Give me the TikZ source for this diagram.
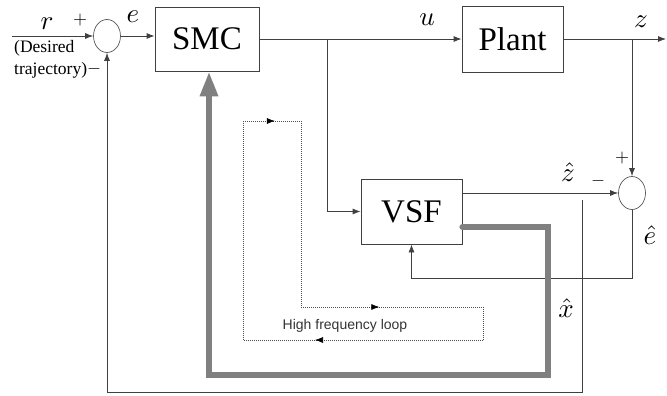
\documentclass[tikz,border=0pt]{standalone}
\usepackage{fontspec}
\setmainfont{Liberation Serif}
\newfontfamily\loopfont{Liberation Sans}
\usetikzlibrary{arrows.meta,shapes.geometric,decorations.markings}

\begin{document}
\begin{tikzpicture}[
  x=1pt, y=-1pt,
  blk/.style={draw=black!75, line width=0.8pt, inner sep=0pt, font=\fontsize{33}{35}\selectfont},
  sumnode/.style={draw=black!65, ellipse, line width=0.7pt, minimum width=27pt, minimum height=33pt, inner sep=0pt},
  arr/.style={-{Latex[length=8pt,width=6pt]}, line width=0.8pt, draw=black!75},
  sig/.style={scale=2.7, inner sep=0pt},
  sgn/.style={scale=1.8, inner sep=0pt},
  hfarr/.style={-{Triangle[length=25pt,width=17pt]}, line width=6pt, draw=black!50, line cap=round, line join=miter},
  loopln/.style={draw=black!70, line width=0.6pt, dash pattern=on 1pt off 1pt},
  midarr/.style={postaction={decorate, decoration={markings,
    mark=at position #1 with {\arrow[solid,black]{Latex[length=8pt,width=6pt]}}}}}
]
\useasboundingbox (0,0) rectangle (667,396);

% blocks
\node[sumnode] (sumr) at (107,36) {};
\node[blk, minimum width=104pt, minimum height=64pt] (smc) at (207,39) {SMC};
\node[blk, minimum width=101pt, minimum height=66pt] (plant) at (512.5,39) {Plant};
\node[blk, minimum width=101pt, minimum height=65pt] (vsf) at (411.5,211.5) {VSF};
\node[sumnode] (sumz) at (632,193) {};

% free ends and corners
\coordinate (rin) at (12,36);
\coordinate (zout) at (666,39);
\coordinate (ub) at (327,39);
\coordinate (zb) at (632,39);
\coordinate (eb) at (632,278);
\coordinate (xs) at (582,200);
\coordinate (fb) at (107,392);
\coordinate (gx) at (548,227);
\coordinate (g1) at (548,375);
\coordinate (g2) at (209,375);

% signals
\draw[arr] (rin) -- (sumr.west);
\draw[arr] (sumr.east) -- (sumr.east -| smc.west);
\draw[arr] (smc.east) -- (plant.west);
\draw[arr] (plant.east) -- (zout);
\draw[arr] (ub) |- (vsf.west);
\draw[arr] (zb) -- (sumz.north);
\draw[arr] (vsf.east |- sumz) -- (sumz.west);
\draw[arr] (sumz.south) -- (eb) -| (vsf.south);
\draw[arr] (xs) |- (fb) -- (sumr.south);

% estimated state to the controller
\draw[hfarr] (gx -| vsf.east) -- (gx) -- (g1) -- (g2) -- (g2 |- smc.south);

% high frequency loop
\coordinate (l1) at (243,121);
\coordinate (l2) at (301,121);
\coordinate (l3) at (301,307);
\coordinate (l4) at (483,307);
\coordinate (l5) at (483,340);
\coordinate (l6) at (243,340);
\draw[loopln, midarr=0.55] (l1) -- (l2);
\draw[loopln] (l2) -- (l3);
\draw[loopln, midarr=0.43] (l3) -- (l4);
\draw[loopln] (l4) -- (l5);
\draw[loopln, midarr=0.7] (l5) -- (l6);
\draw[loopln] (l6) -- (l1);
\node[font=\loopfont\fontsize{14}{16}\selectfont, text=black!80] (hfl) at (345,326) {High frequency loop};

% labels
\node[sig] (rl) at (47,24) {$r$};
\node[sgn] (rp) at (80,20) {$+$};
\node[font=\fontsize{17.5}{22}\selectfont, align=left, inner sep=0pt, anchor=west] (des) at (14,59) {(Desired\\trajectory)};
\node[sgn] (rm) at (94,69) {$-$};
\node[sig] (el) at (133,17) {$e$};
\node[sig] (ul) at (427,20) {$u$};
\node[sig] (zl) at (641,22) {$z$};
\node[sig] (zh) at (568,172) {$\hat z$};
\node[sgn] (zm) at (598,181) {$-$};
\node[sgn] (zp) at (622,158) {$+$};
\node[sig] (eh) at (650,235) {$\hat e$};
\node[sig] (xh) at (566,308) {$\hat x$};
\end{tikzpicture}
\end{document}
